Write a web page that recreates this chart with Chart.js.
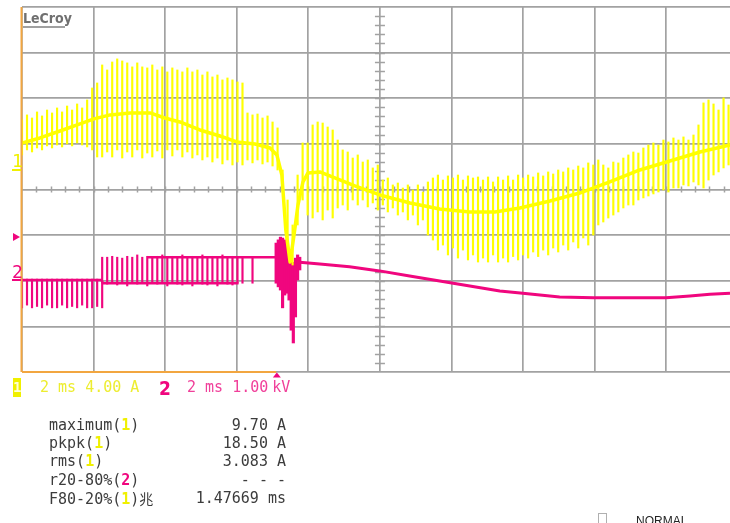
<!DOCTYPE html>
<html>
<head>
<meta charset="utf-8">
<script src="https://cdn.jsdelivr.net/npm/chart.js@4"></script>
<style>
  body { margin: 0; background: #fff; }
  #wrap { position: relative; width: 730px; height: 523px; overflow: hidden; }
  #scope { position: absolute; left: 0; top: 0; }
  .t { position: absolute; white-space: pre; font-family: "DejaVu Sans Mono", monospace; font-size: 15px; line-height: 15px; color: #3c3c3c; }
  .y1 { color: #f0f000; font-weight: bold; }
  .p2 { color: #f0067e; font-weight: bold; }
</style>
</head>
<body>
<div id="wrap">
  <canvas id="scope" width="730" height="523"></canvas>

  <div class="t" style="left:23px;top:11px;font-family:'Liberation Sans Narrow','DejaVu Sans Condensed',sans-serif;font-weight:bold;font-size:14px;line-height:14px;color:#707070">LeCroy</div>

  <div class="t" style="left:12px;top:152px;font-size:18px;line-height:18px;color:#f0f000">1</div>
  <div class="t" style="left:12px;top:263px;font-size:18px;line-height:18px;color:#f0067e">2</div>

  <div class="t" style="left:13px;top:378px;width:8px;height:19px;background:#f0f000;color:#ffffd8;font-weight:bold;font-size:14px;line-height:19px;text-align:center">1</div>
  <div class="t" style="left:40px;top:380px;color:#eded30">2 ms 4.00 A</div>
  <div class="t" style="left:159px;top:379px;font-family:'Liberation Sans Narrow','DejaVu Sans Condensed',sans-serif;font-weight:bold;font-size:19px;line-height:19px;color:#f0067e">2</div>
  <div class="t" style="left:187px;top:380px;color:#f0409a">2 ms 1.00<span style="letter-spacing:-5px"> </span>kV</div>

  <div class="t" style="left:49px;top:418px">maximum(<span class="y1">1</span>)</div>
  <div class="t" style="left:49px;top:436px">pkpk(<span class="y1">1</span>)</div>
  <div class="t" style="left:49px;top:454px">rms(<span class="y1">1</span>)</div>
  <div class="t" style="left:49px;top:473px">r20-80%(<span class="p2">2</span>)</div>
  <div class="t" style="left:49px;top:491px">F80-20%(<span class="y1">1</span>)<span style="font-family:'Noto Sans CJK JP';font-size:14px">兆</span></div>

  <div class="t" style="right:444px;top:418px;text-align:right">9.70 A</div>
  <div class="t" style="right:444px;top:436px;text-align:right">18.50 A</div>
  <div class="t" style="right:444px;top:454px;text-align:right">3.083 A</div>
  <div class="t" style="right:444px;top:473px;text-align:right">- - -</div>
  <div class="t" style="right:444px;top:491px;text-align:right">1.47669 ms</div>

  <div style="position:absolute;left:598px;top:513px;width:7px;height:12px;border:1px solid #b0b0b0"></div>
  <div class="t" style="left:636px;top:515px;font-family:'Liberation Sans',sans-serif;font-size:12px;line-height:12px;color:#222">NORMAL</div>
</div>

<script>
// channel 1 (yellow) : current in A, 4 A/div
// channel 2 (pink)   : voltage in kV, 1 kV/div
// time in ms, 2 ms/div

// yellow mean trace
const yellowT = [0, 0.50, 1.06, 1.62, 2.01, 2.46, 3.02, 3.58, 3.99, 4.41, 4.97, 5.53, 6.00, 6.51, 6.93, 7.12, 7.26, 7.37, 7.49, 7.60, 7.71, 7.85, 7.99, 8.32, 8.74, 9.30, 10.00, 10.84, 11.67, 12.51, 13.21, 13.91, 14.75, 15.58, 16.42, 17.26, 18.10, 18.94, 19.78];
const yellowA = [1.93, 2.37, 2.98, 3.60, 4.04, 4.39, 4.56, 4.56, 4.12, 3.77, 3.07, 2.54, 2.02, 1.84, 1.49, 0.88, -0.88, -5.70, -8.51, -6.14, -3.51, -1.49, -0.70, -0.61, -1.14, -1.84, -2.63, -3.33, -3.86, -4.12, -4.12, -3.77, -3.16, -2.46, -1.49, -0.44, 0.35, 1.14, 1.75];

// switching spikes (times shared by both channels)
const spikeT = [0, 0.14, 0.28, 0.42, 0.56, 0.70, 0.84, 0.98, 1.12, 1.26, 1.40, 1.54, 1.68, 1.82, 1.96,
  2.10, 2.24, 2.38, 2.52, 2.66, 2.80, 2.94, 3.08, 3.22, 3.36, 3.50, 3.64, 3.78, 3.92, 4.06, 4.20, 4.34, 4.48, 4.62, 4.76, 4.90, 5.04, 5.18, 5.32, 5.46, 5.60, 5.74, 5.88, 6.02,
  6.16, 6.30, 6.44, 6.58, 6.72, 6.86, 7.00, 7.14,
  7.28, 7.42, 7.56, 7.70, 7.84,
  7.98, 8.12, 8.26, 8.40, 8.54, 8.68, 8.82, 8.96, 9.10,
  9.24, 9.38, 9.52, 9.66, 9.80, 9.94, 10.08, 10.22, 10.36, 10.50, 10.64, 10.78, 10.92, 11.06, 11.20, 11.34,
  11.48, 11.62, 11.76, 11.90, 12.04, 12.18, 12.32, 12.46, 12.60, 12.74, 12.88, 13.02, 13.16, 13.30, 13.44, 13.58, 13.72, 13.86, 14.00, 14.14, 14.28, 14.42, 14.56, 14.70, 14.84, 14.98, 15.12, 15.26, 15.40, 15.54, 15.68, 15.82, 15.96, 16.10,
  16.24, 16.38, 16.52, 16.66, 16.80, 16.94, 17.08, 17.22, 17.36, 17.50, 17.64, 17.78, 17.92, 18.06, 18.20, 18.34, 18.48, 18.62, 18.76, 18.90,
  19.04, 19.18, 19.32, 19.46, 19.60, 19.74];

const yellowHi = [3.95, 4.39, 4.12, 4.65, 4.30, 4.82, 4.56, 5.00, 4.65, 5.17, 4.82, 5.35, 5.00, 5.70, 6.75,
  7.19, 8.77, 8.33, 9.03, 9.30, 9.12, 8.95, 8.60, 8.95, 8.60, 8.51, 8.77, 8.33, 8.60, 8.16, 8.51, 8.33, 8.16, 8.51, 8.16, 8.33, 7.89, 8.16, 7.72, 7.89, 7.46, 7.63, 7.46, 7.28,
  7.19, 4.56, 4.39, 4.47, 4.12, 4.30, 3.77, 3.25,
  -0.44, -3.07, -5.26, -0.88, 1.93,
  1.93, 3.51, 3.77, 3.68, 3.33, 3.07, 2.19, 1.32, 1.14,
  0.61, 0.88, 0.26, 0.44, -0.26, 0, -1.32, -1.14, -1.75, -1.58, -2.02, -1.75, -2.19, -1.75, -2.37, -1.49,
  -1.14, -0.88, -1.32, -0.96, -1.14, -0.88, -1.32, -0.96, -1.14, -1.05, -1.32, -1.05, -1.49, -1.05, -1.32, -0.96, -1.32, -0.88, -1.14, -0.88, -1.05, -0.70, -0.96, -0.61, -0.79, -0.44, -0.61, -0.26, -0.44, -0.09, -0.26, 0.18, 0, 0.44,
  0, -0.26, 0.26, 0.18, 0.61, 0.88, 1.14, 1.05, 1.49, 1.75, 1.93, 1.75, 2.19, 2.02, 2.37, 2.19, 2.46, 2.19, 2.63, 3.51,
  5.44, 5.70, 5.35, 4.82, 5.88, 5.26];

const yellowLo = [0.88, 1.32, 1.14, 1.49, 1.32, 1.67, 1.49, 1.75, 1.58, 1.84, 1.67, 1.93, 1.75, 1.58, 1.32,
  0.70, 0.70, 1.14, 0.70, 1.32, 0.61, 1.14, 0.70, 1.32, 0.61, 1.05, 0.70, 1.23, 0.61, 1.32, 0.79, 1.32, 0.70, 1.14, 0.61, 0.88, 0.44, 0.70, 0.26, 0.61, 0.09, 0.44, 0.00, 0.26,
  0, 0.44, 0.18, 0.44, 0.09, 0.26, -0.09, -0.44,
  -1.75, -6.58, -8.77, -5.26, -3.07,
  -4.39, -4.65, -4.12, -4.82, -3.95, -4.65, -3.77, -3.51, -3.95,
  -3.07, -3.51, -3.07, -3.68, -3.33, -3.95, -3.51, -4.12, -3.77, -4.39, -4.12, -4.82, -4.39, -5.26, -4.82, -6.14,
  -6.58, -7.46, -7.02, -7.89, -7.28, -8.16, -7.46, -8.33, -7.89, -8.51, -8.16, -8.51, -7.89, -8.51, -8.16, -8.51, -8.03, -8.33, -7.89, -8.16, -7.63, -8.03, -7.46, -7.89, -7.28, -7.63, -7.02, -7.46, -6.75, -7.28, -6.40, -7.02, -6.14, -5.26,
  -5.00, -4.65, -4.39, -4.12, -3.77, -3.51, -3.51, -3.07, -2.89, -2.72, -2.54, -2.37, -2.19, -2.37, -2.02, -2.02, -1.75, -1.84, -1.49, -1.75,
  -2.02, -1.32, -0.88, -0.61, -0.26, 0];

// pink PWM before the event (first 47 spike times)
const pinkLo = [-0.61, -0.55, -0.61, -0.58, -0.61, -0.55, -0.61, -0.61, -0.55, -0.61, -0.58, -0.61, -0.55, -0.61, -0.61, -0.58,
  -0.61,
  -0.09, -0.07, -0.11, -0.07, -0.13, -0.07, -0.09, -0.07, -0.13, -0.07, -0.09, -0.07, -0.13, -0.07, -0.09, -0.11, -0.07, -0.13, -0.07, -0.09, -0.11, -0.07, -0.13, -0.07, -0.09, -0.11, -0.07,
  -0.07, null, -0.07];
const pinkHi = [0.02, 0.02, 0.02, 0.02, 0.02, 0.02, 0.02, 0.02, 0.02, 0.02, 0.02, 0.02, 0.02, 0.02, 0.02, 0.02,
  0.50,
  0.50, 0.52, 0.50, 0.48, 0.52, 0.50, 0.55, 0.50, 0.52, 0.50, 0.52, 0.55, 0.50, 0.52, 0.50, 0.55, 0.50, 0.52, 0.50, 0.55, 0.50, 0.52, 0.50, 0.55, 0.50, 0.52, 0.50,
  0.50, null, 0.50];

// pink levels
const pinkLowT = [0, 2.22, 2.26, 6.05];
const pinkLowV = [0, 0, -0.07, -0.07];
const pinkHighT = [3.50, 7.10];
const pinkHighV = [0.50, 0.50];

// pink burst at the commutation
const burstT = [7.10, 7.16, 7.22, 7.28, 7.34, 7.40, 7.46, 7.52, 7.58, 7.64, 7.70, 7.76];
const burstHi = [0.81, 0.88, 0.94, 0.92, 0.88, 0.77, 0.66, 0.39, 0.39, 0.48, 0.55, 0.50];
const burstLo = [-0.07, -0.15, -0.22, -0.61, -0.33, -0.29, -0.44, -1.10, -1.38, -0.81, 0, 0.22];

// pink decay after the event
const pinkTailT = [7.76, 8.32, 9.15, 9.99, 10.83, 11.67, 12.51, 13.35, 13.99, 15.02, 15.97, 16.70, 17.99, 18.66, 19.22, 19.78];
const pinkTailV = [0.39, 0.35, 0.29, 0.20, 0.09, -0.02, -0.13, -0.24, -0.29, -0.37, -0.39, -0.39, -0.39, -0.35, -0.31, -0.29];

const YELLOW = '#ffff00';
const PINK = '#f0067e';
const GRID = '#a2a2a2';
const ORANGE = '#f2a640';

const xy = (ts, vs) => ts.map((t, i) => ({ x: t, y: vs[i] }));
const bars = (ts, lo, hi) => lo.map((l, i) => ({ x: ts[i], y: l === null ? null : [l, hi[i]] }));

const scopeDecor = {
  id: 'scopeDecor',
  beforeDatasetsDraw(chart) {
    const { ctx, scales: { x, y } } = chart;
    const cy = y.getPixelForValue(4), cx = x.getPixelForValue(10);
    ctx.save();
    ctx.strokeStyle = GRID;
    ctx.lineWidth = 1.5;
    ctx.beginPath();
    for (let t = 0.4; t < 19.78; t += 0.4) {
      const px = Math.round(x.getPixelForValue(t)) + 0.5;
      ctx.moveTo(px, cy - 3); ctx.lineTo(px, cy + 3);
    }
    for (let d = 0.2; d < 8; d += 0.2) {
      const py = Math.round(y.getPixelForValue(d)) + 0.5;
      ctx.moveTo(cx - 5, py); ctx.lineTo(cx + 5, py);
    }
    ctx.stroke();
    ctx.restore();
  },
  afterDatasetsDraw(chart) {
    const { ctx, chartArea: a, scales: { x } } = chart;
    ctx.save();
    ctx.strokeStyle = ORANGE;
    ctx.lineWidth = 2;
    ctx.beginPath();
    ctx.moveTo(a.left - 0.5, a.top); ctx.lineTo(a.left - 0.5, a.bottom);
    ctx.moveTo(a.left, a.bottom); ctx.lineTo(x.getPixelForValue(7.1), a.bottom);
    ctx.stroke();
    // underlines
    ctx.lineWidth = 2;
    ctx.strokeStyle = '#f0f000';
    ctx.beginPath(); ctx.moveTo(12, 170); ctx.lineTo(21, 170); ctx.stroke();
    ctx.strokeStyle = PINK;
    ctx.beginPath(); ctx.moveTo(12, 280); ctx.lineTo(21, 280); ctx.stroke();
    ctx.strokeStyle = '#808080';
    ctx.lineWidth = 1.5;
    ctx.beginPath(); ctx.moveTo(23, 27); ctx.lineTo(65, 27); ctx.stroke();
    // markers
    ctx.fillStyle = PINK;
    ctx.beginPath(); ctx.moveTo(13, 233); ctx.lineTo(20, 237); ctx.lineTo(13, 241); ctx.closePath(); ctx.fill();
    const tx = x.getPixelForValue(7.12);
    ctx.beginPath(); ctx.moveTo(tx - 4, 377.5); ctx.lineTo(tx, 372.5); ctx.lineTo(tx + 4, 377.5); ctx.closePath(); ctx.fill();
    ctx.restore();
  }
};

const lineDs = (data, color, w, order) => ({
  type: 'line', data, borderColor: color, borderWidth: w, pointRadius: 0,
  tension: 0, borderJoinStyle: 'round', yAxisID: color === YELLOW ? 'yA' : 'yKV', order
});
const barDs = (data, color, w, axis, order) => ({
  type: 'bar', data, backgroundColor: color, borderWidth: 0, barThickness: w,
  grouped: false, yAxisID: axis, order
});

new Chart(document.getElementById('scope'), {
  type: 'line',
  data: {
    datasets: [
      lineDs(xy(yellowT, yellowA), YELLOW, 3.5, 0),
      barDs(bars(spikeT, yellowLo, yellowHi), YELLOW, 1.5, 'yA', 1),
      lineDs(xy(pinkTailT, pinkTailV), PINK, 3, 2),
      lineDs(xy(pinkLowT, pinkLowV), PINK, 2.5, 3),
      lineDs(xy(pinkHighT, pinkHighV), PINK, 2.5, 4),
      barDs(bars(burstT, burstLo, burstHi), PINK, 2.5, 'yKV', 5),
      barDs(bars(spikeT, pinkLo, pinkHi), PINK, 1.5, 'yKV', 6)
    ]
  },
  options: {
    responsive: false,
    devicePixelRatio: 1,
    animation: false,
    events: [],
    layout: { padding: { left: 22, top: 7, right: 0, bottom: 151 } },
    plugins: { legend: { display: false }, tooltip: { enabled: false } },
    scales: {
      x: {
        type: 'linear', min: 0, max: 19.78, offset: false,
        ticks: { display: false, stepSize: 2, includeBounds: false },
        grid: { color: GRID, lineWidth: 1.7, drawTicks: false, offset: false },
        border: { display: false }
      },
      y: {
        min: 0, max: 8,
        ticks: { display: false, stepSize: 1 },
        grid: { color: GRID, lineWidth: 1.7, drawTicks: false, offset: false },
        border: { display: false }
      },
      yA: { display: false, min: -18.15, max: 13.85 },
      yKV: { display: false, min: -2.016, max: 5.984 }
    }
  },
  plugins: [scopeDecor]
});
</script>
</body>
</html>
